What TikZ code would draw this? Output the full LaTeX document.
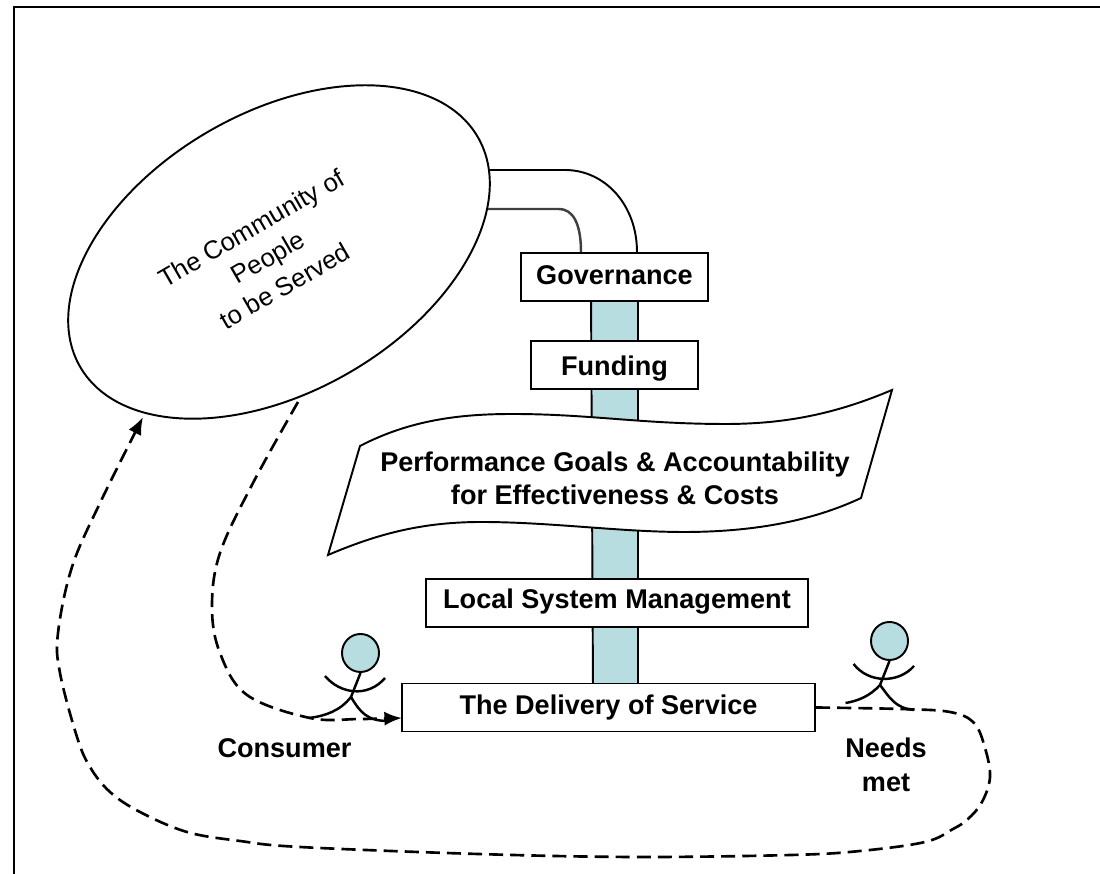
\documentclass[tikz,border=0pt]{standalone}
\usepackage{fontspec}
\setmainfont{Liberation Sans}
\usetikzlibrary{positioning, arrows.meta, shapes.geometric}
\definecolor{pillarblue}{HTML}{B7DDE0}
\newcommand{\bodyfont}{\fontsize{7.7}{9.5}\selectfont}

\begin{document}
\begin{tikzpicture}[x=0.01cm, y=-0.01cm, line width=0.55pt,
    txtbox/.style={draw, fill=white, font=\bodyfont\bfseries, inner sep=0pt, minimum height=0.48cm,
        text height=5.8pt, text depth=1.6pt},
    label/.style={font=\bodyfont\bfseries, align=center, inner sep=0pt},
    flow/.style={line width=0.75pt, dash pattern=on 4pt off 2pt},
    head/.style={draw, fill=pillarblue, ellipse, inner sep=0pt, minimum width=0.37cm, minimum height=0.38cm},
    limb/.style={line width=0.7pt}]
    \useasboundingbox (0,0) rectangle (1100,874);
    % Frame
    \draw[line width=0.6pt] (14,874) -- (14,7) -- (1100,7);

    % Pillar
    \draw[fill=pillarblue] (591,290) -- (638,290) -- (638,690) -- (593,690) -- cycle;

    % Boxes on the pillar
    \node[txtbox, minimum width=1.87cm] (governance) at (614.5,277) {Governance};
    \node[txtbox, minimum width=1.67cm, text depth=0pt] (funding) at (614.5,365) {Funding};
    \node[txtbox, minimum width=3.82cm, text depth=2.5pt] (local) at (617,603) {Local System Management};
    \node[txtbox, minimum width=4.13cm] (delivery) at (608.5,707.5) {The Delivery of Service};

    % Pipe into Governance
    \coordinate (outerend) at (governance.north -| 637,0);
    \coordinate (innerend) at (governance.north -| 581,0);
    \draw (480,170) -- (565,170) .. controls (605,170) and (637,205) .. (outerend);
    \draw[line width=0.7pt, black!75] (480,209) -- (559,209) .. controls (572,209) and (581,222) .. (innerend);

    % Community
    \node[draw, fill=white, ellipse, rotate=30, minimum width=4.59cm, minimum height=2.79cm,
        inner sep=0pt] (community) at (279,252) {};
    \node[rotate=30, inner sep=0pt, align=center, font=\fontsize{7.3}{9.5}\selectfont] (people) at (268,257)
        {The Community of\\People\\to be Served};
    \coordinate (leaving) at (298,402);
    \coordinate (returning) at (143,417);
    \coordinate (entering) at (402,718);

    % Banner
    \draw[fill=white] (360,446) .. controls (410,420) and (460,414) .. (512,414)
        .. controls (590,414) and (640,424) .. (726,424)
        .. controls (790,424) and (840,412) .. (892,390) -- (861,498)
        .. controls (810,522) and (750,532) .. (684,532)
        .. controls (620,532) and (550,522) .. (481,522)
        .. controls (420,522) and (375,535) .. (328,555) -- cycle;
    \node[label] (goals) at (615,478.5) {Performance Goals \& Accountability\\for Effectiveness \& Costs};

    % Consumer figure
    \node[head] (conhead) at (360.5,653) {};
    \coordinate (conhip) at (351,697);
    \draw[limb] (conhead.south) -- (conhip);
    \draw[limb] (325,676) .. controls (340,694) and (368,698) .. (385,678);
    \draw[limb] (conhip) .. controls (340,711) and (325,716) .. (309,718);
    \draw[limb] (conhip) .. controls (360,712) and (367,721) .. (388,721);
    \node[label] (consumer) at (284.5,748) {Consumer};

    % Needs met figure
    \node[head] (methead) at (889.5,641) {};
    \coordinate (methip) at (880,685);
    \draw[limb] (methead.south) -- (methip);
    \draw[limb] (853.6,664) .. controls (868,683) and (898,684) .. (914,666);
    \draw[limb] (methip) .. controls (870,696) and (858,701) .. (845.5,703);
    \draw[limb] (methip) .. controls (890,698) and (895,708) .. (914,710);
    \node[label] (needs) at (886,765) {Needs\\met};

    % Dashed flows
    \draw[flow, -{Latex[length=5pt, width=4pt]}] plot[smooth, tension=0.6] coordinates
        {(leaving) (253,483) (220,553) (212,607) (220,653) (247,695) (310,718) (360,719) (entering)};
    \draw[flow, -{Latex[length=5pt, width=4pt]}] plot[smooth, tension=0.6] coordinates
        {(delivery.east) (900,709) (950,712) (974,723) (985,748) (990,777) (982,802) (968,819)
         (953,829) (925,842) (860,851) (791,855) (635,857) (478,854) (300,847) (240,841) (187,832)
         (140,812) (110,792) (90,767) (77,737) (60,673) (58,633) (72,567) (100,503) (returning)};
\end{tikzpicture}
\end{document}
